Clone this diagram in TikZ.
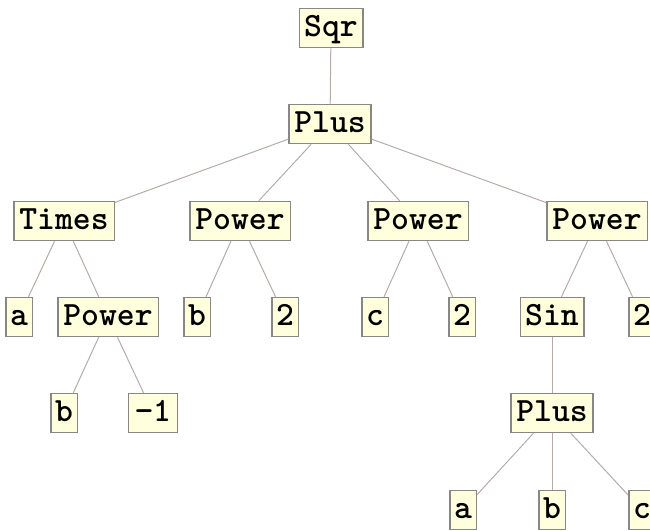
\documentclass[tikz,border=0pt]{standalone}
\usepackage{fontspec}
\definecolor{boxfill}{RGB}{255,255,222}
\definecolor{boxline}{RGB}{135,135,135}
\definecolor{edgecol}{RGB}{185,170,170}
\begin{document}
\begin{tikzpicture}[x=1pt,y=-1pt,
  tnode/.style={draw=boxline,fill=boxfill,line width=1.5pt,inner xsep=0pt,inner ysep=0pt,
    font=\fontsize{34}{34}\ttfamily\bfseries,text height=23pt,text depth=7pt,minimum height=39pt},
  w/.style={minimum width={18.5*#1+8}},
  edge/.style={draw=edgecol,line width=1pt}]
\useasboundingbox (0,0) rectangle (650,530);
\clip (0,0) rectangle (650,530);
% level 0
\node[tnode,w=3] (sqr) at (331,28) {Sqr};
% level 1
\node[tnode,w=4] (plus) at (330,124) {Plus};
% level 2
\node[tnode,w=5] (times) at (64,221) {Times};
\node[tnode,w=5] (pow1) at (240,221) {Power};
\node[tnode,w=5] (pow2) at (418,221) {Power};
\node[tnode,w=5] (pow3) at (597,221) {Power};
% level 3
\node[tnode,w=1] (a1) at (19,317) {a};
\node[tnode,w=5] (pow4) at (108,317) {Power};
\node[tnode,w=1] (b1) at (197,317) {b};
\node[tnode,w=1] (two1) at (285,317) {2};
\node[tnode,w=1] (c1) at (375,317) {c};
\node[tnode,w=1] (two2) at (462,317) {2};
\node[tnode,w=3] (sin) at (552,317) {Sin};
\node[tnode,w=1] (two3) at (642,317) {2};
% level 4
\node[tnode,w=1] (b2) at (64,413) {b};
\node[tnode,w=2.2] (m1) at (153,413) {−1};
\node[tnode,w=4] (plus2) at (552,413) {Plus};
% level 5
\node[tnode,w=1] (a2) at (463,510) {a};
\node[tnode,w=1] (b3) at (552,510) {b};
\node[tnode,w=1] (c2) at (642,510) {c};
% edges
\foreach \p/\c in {sqr/plus,plus/times,plus/pow1,plus/pow2,plus/pow3,
  times/a1,times/pow4,pow1/b1,pow1/two1,pow2/c1,pow2/two2,pow3/sin,pow3/two3,
  pow4/b2,pow4/m1,sin/plus2,plus2/a2,plus2/b3,plus2/c2}
  \draw[edge] (\p) -- (\c);
\end{tikzpicture}
\end{document}
